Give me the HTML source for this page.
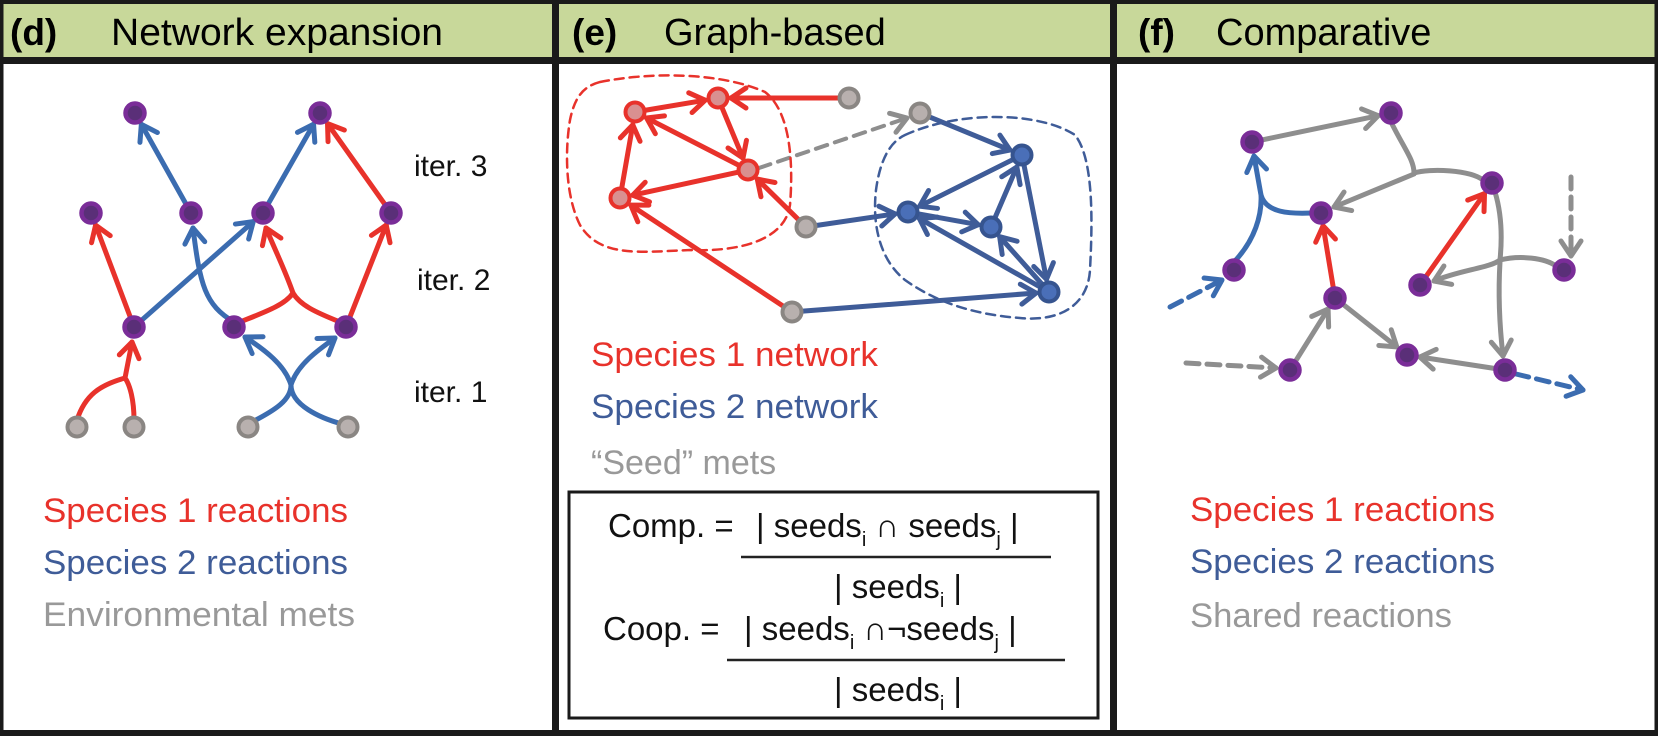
<!DOCTYPE html>
<html><head><meta charset="utf-8"><style>
html,body{margin:0;padding:0;background:#fff}
svg{display:block}
text{font-family:"Liberation Sans",Arial,sans-serif}
</style></head><body>
<svg id="s" width="1658" height="736" viewBox="0 0 1658 736" xmlns="http://www.w3.org/2000/svg">
<defs>
<marker id="mr" markerUnits="userSpaceOnUse" markerWidth="34" markerHeight="34" refX="0" refY="0" viewBox="-22 -17 27 34" orient="auto"><path d="M-15,-10 L0,0 L-15,10" fill="none" stroke="#e8322b" stroke-width="5" stroke-linecap="round" stroke-linejoin="round"/></marker>
<marker id="mb" markerUnits="userSpaceOnUse" markerWidth="34" markerHeight="34" refX="0" refY="0" viewBox="-22 -17 27 34" orient="auto"><path d="M-15,-10 L0,0 L-15,10" fill="none" stroke="#3b6cb0" stroke-width="5" stroke-linecap="round" stroke-linejoin="round"/></marker>
<marker id="mn" markerUnits="userSpaceOnUse" markerWidth="34" markerHeight="34" refX="0" refY="0" viewBox="-22 -17 27 34" orient="auto"><path d="M-15,-10 L0,0 L-15,10" fill="none" stroke="#3f5c98" stroke-width="5" stroke-linecap="round" stroke-linejoin="round"/></marker>
<marker id="mg" markerUnits="userSpaceOnUse" markerWidth="34" markerHeight="34" refX="0" refY="0" viewBox="-22 -17 27 34" orient="auto"><path d="M-15,-10 L0,0 L-15,10" fill="none" stroke="#8e8e8e" stroke-width="5" stroke-linecap="round" stroke-linejoin="round"/></marker>
</defs>
<rect x="0" y="0" width="1658" height="736" fill="#fff"/>
<rect x="3" y="4" width="1652" height="56" fill="#c8d89a"/>
<rect x="1.5" y="2" width="1655" height="732" fill="none" stroke="#1a1a1a" stroke-width="4"/>
<rect x="0" y="57" width="1658" height="7" fill="#1a1a1a"/>
<rect x="552" y="0" width="7" height="736" fill="#1a1a1a"/>
<rect x="1110" y="0" width="7" height="736" fill="#1a1a1a"/>
<rect x="0" y="730" width="1658" height="6" fill="#1a1a1a"/>
<text x="10" y="45" font-size="37" font-weight="bold">(d)</text>
<text x="111" y="45" font-size="38" textLength="332" lengthAdjust="spacingAndGlyphs">Network expansion</text>
<text x="572" y="45" font-size="37" font-weight="bold">(e)</text>
<text x="664" y="45" font-size="38">Graph-based</text>
<text x="1138" y="45" font-size="37" font-weight="bold">(f)</text>
<text x="1216" y="45" font-size="38">Comparative</text>

<g id="edges" fill="none" stroke-width="5" stroke-linecap="round"></g>
<g fill="none" stroke-width="5" stroke-linecap="round">
<path d="M77,420 C85,395 100,385 125,378" stroke="#e8322b"/>
<path d="M134,420 C134,400 130,385 125,378 L132,342" stroke="#e8322b" marker-end="url(#mr)"/>
<path d="M234,322 C205,305 200,285 193,228" stroke="#3b6cb0" marker-end="url(#mb)"/>
<path d="M240,322 C265,312 285,305 293,293" stroke="#e8322b"/>
<path d="M340,322 C315,312 300,305 293,293 C285,270 275,250 266,228" stroke="#e8322b" marker-end="url(#mr)"/>
<path d="M254,421 C275,410 291,400 291,385" stroke="#3b6cb0"/>
<path d="M342,424 C320,418 291,405 291,385" stroke="#3b6cb0"/>
<path d="M291,385 C285,365 265,350 245,337" stroke="#3b6cb0" marker-end="url(#mb)"/>
<path d="M291,385 C297,365 318,350 335,338" stroke="#3b6cb0" marker-end="url(#mb)"/>
<path d="M1391,122 C1405,150 1414,160 1414,173 C1430,168 1470,170 1483,180" stroke="#8e8e8e"/>
<path d="M1414,174 L1334,207" stroke="#8e8e8e" marker-end="url(#mg)"/>
<path d="M1234,262 C1255,240 1262,215 1261,195 L1254,156" stroke="#3b6cb0" marker-end="url(#mb)"/>
<path d="M1312,213 C1290,214 1266,213 1261,195" stroke="#3b6cb0"/>
<path d="M1495,192 C1502,215 1502,240 1500,260 C1520,255 1545,258 1556,266" stroke="#8e8e8e"/>
<path d="M1500,260 C1490,268 1460,270 1434,281" stroke="#8e8e8e" marker-end="url(#mg)"/>
<path d="M1500,262 C1498,295 1500,330 1503,356" stroke="#8e8e8e" marker-end="url(#mg)"/>
<path d="M1571,177 L1571,256" stroke="#8e8e8e" stroke-dasharray="12,8" marker-end="url(#mg)"/>
<path d="M1186,363 L1276,368" stroke="#8e8e8e" stroke-dasharray="13,8" marker-end="url(#mg)"/>
<path d="M1170,307 L1222,280" stroke="#3b6cb0" stroke-dasharray="13,8" marker-end="url(#mb)"/>
<path d="M1516,374 L1583,390" stroke="#3b6cb0" stroke-dasharray="13,8" marker-end="url(#mb)"/>
<path d="M759,168 L907,118" stroke="#8e8e8e" stroke-width="4" stroke-dasharray="12,8" marker-end="url(#mg)"/>
<path d="M600,82 C650,72 720,72 765,92 C795,115 792,180 790,205 C785,240 740,252 690,250 C640,252 600,258 580,225 C565,195 565,150 570,120 C575,95 585,86 600,82 Z" stroke="#e8322b" stroke-width="2.5" stroke-dasharray="9,6"/>
<path d="M905,135 C960,110 1040,112 1075,135 C1095,160 1092,230 1090,270 C1088,305 1060,322 1020,318 C980,315 940,305 905,280 C880,260 872,225 876,190 C880,160 890,142 905,135 Z" stroke="#3f5c98" stroke-width="2.5" stroke-dasharray="9,6"/>
</g>
<g id="nodes"></g>

<g font-size="30" fill="#111">
<text x="414" y="176">iter. 3</text>
<text x="417" y="290">iter. 2</text>
<text x="414" y="402">iter. 1</text>
</g>
<g font-size="34">
<text x="43" y="522" fill="#e8322b" textLength="305" lengthAdjust="spacingAndGlyphs">Species 1 reactions</text>
<text x="43" y="574" fill="#3f5c98" textLength="305" lengthAdjust="spacingAndGlyphs">Species 2 reactions</text>
<text x="43" y="626" fill="#999" textLength="312" lengthAdjust="spacingAndGlyphs">Environmental mets</text>
<text x="591" y="366" fill="#e8322b" textLength="287" lengthAdjust="spacingAndGlyphs">Species 1 network</text>
<text x="591" y="418" fill="#3f5c98" textLength="287" lengthAdjust="spacingAndGlyphs">Species 2 network</text>
<text x="591" y="474" fill="#999">“Seed” mets</text>
<text x="1190" y="521" fill="#e8322b" textLength="305" lengthAdjust="spacingAndGlyphs">Species 1 reactions</text>
<text x="1190" y="573" fill="#3f5c98" textLength="305" lengthAdjust="spacingAndGlyphs">Species 2 reactions</text>
<text x="1190" y="627" fill="#999" textLength="262" lengthAdjust="spacingAndGlyphs">Shared reactions</text>
</g>
<rect x="569" y="492" width="529" height="226" fill="none" stroke="#1a1a1a" stroke-width="3"/>
<g font-size="33" fill="#111">
<text x="608" y="537">Comp. =</text>
<text x="756" y="537">| seeds<tspan font-size="20" dy="9">i</tspan><tspan dy="-9"> ∩ seeds</tspan><tspan font-size="20" dy="9">j</tspan><tspan dy="-9"> |</tspan></text>
<line x1="741" y1="557" x2="1051" y2="557" stroke="#222" stroke-width="2.5"/>
<text x="834" y="598">| seeds<tspan font-size="20" dy="9">i</tspan><tspan dy="-9"> |</tspan></text>
<text x="603" y="640">Coop. =</text>
<text x="744" y="640">| seeds<tspan font-size="20" dy="9">i</tspan><tspan dy="-9"> ∩¬seeds</tspan><tspan font-size="20" dy="9">j</tspan><tspan dy="-9"> |</tspan></text>
<line x1="727" y1="660" x2="1065" y2="660" stroke="#222" stroke-width="2.5"/>
<text x="834" y="701">| seeds<tspan font-size="20" dy="9">i</tspan><tspan dy="-9"> |</tspan></text>
</g>
</svg>
<script>
var NS="http://www.w3.org/2000/svg";
var R="#e8322b",B="#3b6cb0",N="#3f5c98",G="#8e8e8e";
var mk={};mk[R]="mr";mk[B]="mb";mk[N]="mn";mk[G]="mg";
var edges=[
[134,327,91,213,R],[134,327,263,213,B],[191,213,135,113,B],[263,213,320,113,B],[391,213,320,113,R],[346,327,391,213,R],
[849,98,718,98,R],[635,112,718,98,R],[718,98,748,170,R],[748,170,635,112,R],[620,198,635,112,R],[748,170,620,198,R],
[806,227,748,170,R],[792,312,620,198,R],
[920,113,1022,155,N],[806,227,908,212,N],[792,312,1049,292,N],[1022,155,908,212,N],[908,212,991,227,N],[991,227,1022,155,N],
[1022,155,1049,292,N],[1049,292,908,212,N],[1049,292,991,227,N],
[1252,142,1391,113,G],[1335,298,1321,213,R],[1420,285,1492,183,R],[1290,370,1335,298,G],[1335,298,1407,355,G],[1505,370,1407,355,G]
];
var eg=document.getElementById("edges");
edges.forEach(function(e){
 var dx=e[2]-e[0],dy=e[3]-e[1],L=Math.sqrt(dx*dx+dy*dy),ux=dx/L,uy=dy/L;
 var l=document.createElementNS(NS,"line");
 l.setAttribute("x1",e[0]+ux*6);l.setAttribute("y1",e[1]+uy*6);
 l.setAttribute("x2",e[2]-ux*13);l.setAttribute("y2",e[3]-uy*13);
 l.setAttribute("stroke",e[4]);l.setAttribute("marker-end","url(#"+mk[e[4]]+")");
 eg.appendChild(l);
});
var ng=document.getElementById("nodes");
function node(x,y,t){
 var c=document.createElementNS(NS,"circle");c.setAttribute("cx",x);c.setAttribute("cy",y);c.setAttribute("r",9.5);
 var f,s;
 if(t=="p"){f="#5a2f78";s="#7a2d98";}
 else if(t=="g"){f="#b8b0ae";s="#8a8683";}
 else if(t=="r"){f="#d99090";s="#e8322b";}
 else {f="#4a6fb8";s="#36548f";}
 c.setAttribute("fill",f);c.setAttribute("stroke",s);c.setAttribute("stroke-width",t=="p"?4.5:4);
 ng.appendChild(c);
}
[[135,113],[320,113],[91,213],[191,213],[263,213],[391,213],[134,327],[234,327],[346,327]].forEach(function(p){node(p[0],p[1],"p")});
[[77,427],[134,427],[248,427],[348,427],[849,98],[920,113],[806,227],[792,312]].forEach(function(p){node(p[0],p[1],"g")});
[[635,112],[718,98],[748,170],[620,198]].forEach(function(p){node(p[0],p[1],"r")});
[[1022,155],[908,212],[991,227],[1049,292]].forEach(function(p){node(p[0],p[1],"b")});
[[1252,142],[1391,113],[1321,213],[1492,183],[1234,270],[1335,298],[1420,285],[1564,270],[1290,370],[1407,355],[1505,370]].forEach(function(p){node(p[0],p[1],"p")});
</script>
</body></html>
